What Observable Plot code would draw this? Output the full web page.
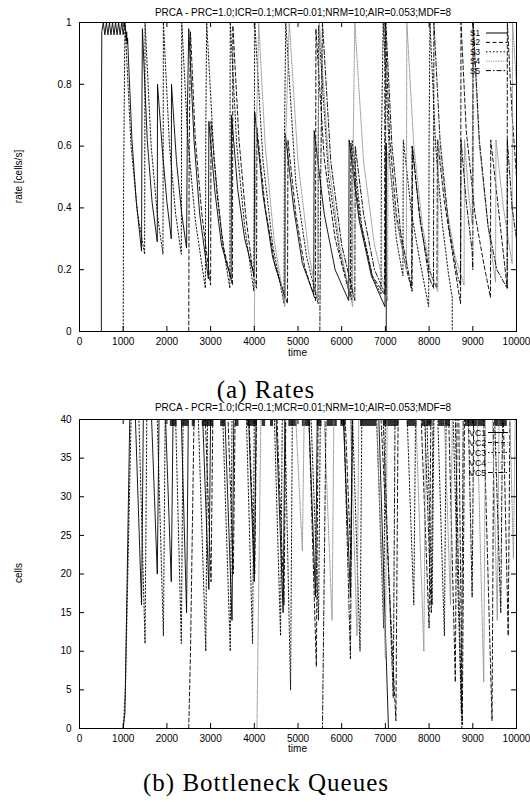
<!DOCTYPE html>
<html><head><meta charset="utf-8">
<script src="https://cdn.jsdelivr.net/npm/d3@7"></script>
<script src="https://cdn.jsdelivr.net/npm/@observablehq/plot@0.6"></script>
<style>
html,body{margin:0;padding:0;background:#fff;}
#wrap{position:relative;width:530px;height:802px;overflow:hidden;background:#fff;}
#top,#bot{position:absolute;left:0;}
#top{top:0;} #bot{top:397px;}
#ov{position:absolute;left:0;top:0;pointer-events:none;}
</style></head>
<body><div id="wrap"><div id="top"></div><div id="bot"></div><svg id="ov" width="530" height="802"></svg></div>
<script>
// ---------- DATA ----------
const xTicks = [0,1000,2000,3000,4000,5000,6000,7000,8000,9000,10000];
const rateTicks = [0,0.2,0.4,0.6,0.8,1];
const queueTicks = [0,5,10,15,20,25,30,35,40];
const rateNames = ["S1","S2","S3","S4","S5"];
const queueNames = ["VC1","VC2","VC3","VC4","VC5"];
const rateTitle = "PRCA - PRC=1.0;ICR=0.1;MCR=0.01;NRM=10;AIR=0.053;MDF=8";
const queueTitle = "PRCA - PCR=1.0;ICR=0.1;MCR=0.01;NRM=10;AIR=0.053;MDF=8";

// [time, rate]
const rateS1 = [[500,0],[500,0.63],[510,0.97],[545,1.0],[580,0.96],[615,1.0],[650,0.96],[685,1.0],[720,0.96],[755,1.0],[790,0.96],[825,1.0],[860,0.96],[895,1.0],[930,0.96],[965,1.0],[1000,0.96],[1035,1.0],[1060,0.97],[1070,0.94],[1080,0.97],[1090,0.93],[1100,0.95],[1200,0.62],[1300,0.42],[1420,0.26],[1430,0.77],[1440,0.98],[1550,0.62],[1660,0.42],[1780,0.29],[1785,0.80],[1900,0.58],[2000,0.42],[2100,0.30],[2105,0.80],[2220,0.55],[2340,0.38],[2450,0.27],[2470,0.72],[2500,0.98],[2620,0.62],[2750,0.38],[2950,0.17],[2960,0.68],[3100,0.45],[3250,0.28],[3470,0.17],[3480,0.70],[3620,0.46],[3780,0.30],[4000,0.18],[4010,0.71],[4200,0.44],[4420,0.24],[4700,0.11],[4710,0.64],[4900,0.40],[5100,0.22],[5360,0.12],[5370,0.65],[5600,0.38],[5850,0.20],[6160,0.10],[6170,0.62],[6400,0.36],[6680,0.18],[6990,0.08],[7020,0.61],[7020,0]];
const rateS2 = [[2500,0],[2510,0.6],[2540,0.97],[2650,0.62],[2800,0.38],[3000,0.15],[3010,0.68],[3150,0.44],[3300,0.27],[3500,0.15],[3510,0.99],[3650,0.62],[3800,0.38],[3960,0.2],[4050,0.14],[4060,0.66],[4250,0.40],[4480,0.21],[4760,0.09],[4770,0.62],[4950,0.38],[5150,0.21],[5400,0.10],[5410,0.98],[5600,0.56],[5850,0.30],[6200,0.11],[6210,0.61],[6420,0.36],[6700,0.18],[6980,0.12],[6990,1.0],[7100,0.62],[7250,0.38],[7450,0.22],[7610,0.13],[7620,0.6],[7800,0.35],[8000,0.2],[8180,0.14],[8190,0.62],[8350,0.42],[8550,0.24],[8720,0.09],[8730,1.0],[8850,0.65],[9050,0.38],[9250,0.22],[9405,0.11],[9410,0.62],[9600,0.38],[9787,0.14],[9790,1.0],[9900,0.7],[10000,0.5]];
const rateS3 = [[1000,0],[1010,0.5],[1040,1.0],[1180,0.6],[1330,0.38],[1490,0.25],[1500,1.0],[1640,0.6],[1780,0.38],[1910,0.25],[1920,1.0],[2060,0.6],[2200,0.38],[2330,0.25],[2340,1.0],[2480,0.62],[2650,0.36],[2880,0.14],[2890,0.64],[2910,1.0],[3080,0.56],[3260,0.3],[3440,0.14],[3450,1.0],[3600,0.6],[3780,0.34],[3990,0.13],[4000,0.62],[4010,1.0],[4200,0.55],[4420,0.28],[4680,0.09],[4690,0.62],[4720,1.0],[4950,0.48],[5200,0.24],[5460,0.09],[5470,0.99],[5700,0.5],[5950,0.26],[6230,0.1],[6240,0.62],[6460,0.34],[6700,0.18],[6900,0.12],[6910,0.62],[6950,1.0],[7100,0.55],[7250,0.3],[7400,0.18],[7410,0.62],[7600,0.38],[7800,0.22],[7990,0.08],[8000,0.62],[8020,1.0],[8150,0.6],[8300,0.35],[8450,0.18],[8530,0.11],[8530,0]];
const rateS4 = [[4000,0],[4030,0.5],[4100,1.0],[4250,0.6],[4450,0.3],[4700,0.08],[4710,0.58],[4800,1.0],[5000,0.55],[5250,0.25],[5450,0.1],[5460,0.6],[5490,1.0],[5700,0.55],[5950,0.28],[6250,0.08],[6260,0.58],[6300,1.0],[6500,0.55],[6750,0.28],[7050,0.10],[7060,0.58],[7250,0.36],[7480,0.20],[7490,1.0],[7650,0.6],[7850,0.34],[8050,0.18],[8200,0.13],[8210,0.62],[8400,0.40],[8600,0.24],[8800,0.15],[8810,0.62],[8900,0.45],[8985,0.35],[9000,1.0],[9150,0.6],[9350,0.34],[9520,0.16],[9530,0.62],[9700,0.4],[9900,0.22],[9910,1.0],[10000,0.8]];
const rateS5 = [[5500,0],[5520,0.5],[5560,1.0],[5750,0.55],[6000,0.28],[6300,0.10],[6310,0.6],[6500,0.38],[6750,0.2],[7000,0.12],[7010,1.0],[7150,0.6],[7350,0.32],[7600,0.14],[7610,0.6],[7780,0.38],[7990,0.18],[8100,0.14],[8110,1.0],[8250,0.62],[8450,0.34],[8650,0.18],[8720,0.15],[8730,0.62],[8850,0.42],[8985,0.26],[9000,0.2],[9010,1.0],[9150,0.62],[9350,0.34],[9550,0.2],[9787,0.14],[9790,0.62],[9900,0.4],[10000,0.3]];

// [time, cells]
const queueVC1 = [[500,0],[1000,0],[1040,2],[1150,40],[1280,40],[1420,16],[1460,40],[1650,40],[1780,20],[1820,40],[1970,40],[2100,19],[2140,40],[2330,40],[2450,15],[2490,40],[2820,40],[2960,18],[3000,40],[3330,40],[3490,14],[3530,40],[3870,40],[4000,19],[4040,40],[4500,40],[4660,15],[4700,40],[5250,40],[5400,17],[5440,40],[6040,40],[6200,17],[6240,40],[6850,40],[7070,0]];
const queueVC2 = [[2500,0],[2540,10],[2620,40],[2880,40],[3010,19],[3050,40],[3400,40],[3520,20],[3560,40],[3880,40],[4010,20],[4050,40],[4520,40],[4680,16],[4720,40],[5250,40],[5420,8],[5460,40],[6080,40],[6210,22],[6250,40],[6900,40],[7240,1],[7290,40],[7820,40],[8000,13],[8040,40],[8450,40],[8600,6],[8640,40],[8680,40],[8760,0.5],[8810,40],[9250,40],[9440,1],[9480,40],[9700,40],[9810,12],[9850,40],[10000,40]];
const queueVC3 = [[1000,0],[1050,5],[1180,40],[1360,40],[1500,11],[1540,40],[1780,40],[1920,12],[1960,40],[2200,40],[2330,11],[2370,40],[2720,40],[2890,10],[2930,40],[3280,40],[3450,10],[3490,40],[3820,40],[3960,11],[4000,40],[4460,40],[4600,12],[4640,40],[4700,40],[4830,5],[4870,40],[5300,40],[5470,14],[5510,40],[6250,40],[6420,10],[6460,40],[6800,40],[6960,13],[7000,40],[7500,40],[7650,16],[7690,40],[7950,40],[8070,16],[8110,40],[8200,40],[8350,12],[8390,40],[8550,40],[8750,0]];
const queueVC4 = [[4000,0],[4060,0],[4150,40],[4950,40],[5100,23],[5140,40],[5600,40],[5780,14],[5820,40],[6200,40],[6350,12],[6390,40],[6800,40],[7000,9],[7040,40],[7700,40],[7880,10],[7920,40],[8350,40],[8490,16],[8530,40],[9100,40],[9250,6],[9290,40],[9450,40],[9560,14],[9600,40],[9850,40],[9930,22],[9970,40]];
const queueVC5 = [[5500,0],[5560,0],[5640,40],[6050,40],[6200,9],[6240,40],[6950,40],[7180,4],[7220,40],[7900,40],[8050,15],[8090,40],[8600,40],[8740,2],[8780,40],[8900,40],[8985,17],[9020,40],[9500,40],[9640,15],[9680,40],[10000,40]];

// time spans where the full queues jitter just below 40 cells
const jitterFrom = [2080,2350,2580,2810,3230,3570,3840,4180,4370,4790,5100,5440,5670,5980,6430,6960,7500,7840,8220,8830,9520];
const jitterTo   = [2235,2500,2650,3075,3340,3650,4070,4260,4440,4980,5290,5550,5900,6090,6810,7310,7730,8070,8490,9290,9790];
const jitterLow = 39.1, jitterHigh = 40;

// ---------- STYLES ----------
const lineStyles = [
  {stroke:"#000", dash:null},
  {stroke:"#000", dash:"4,2.5"},
  {stroke:"#000", dash:"1.5,2"},
  {stroke:"#8c8c8c", dash:"1.2,1.2"},
  {stroke:"#000", dash:"5,2,1.5,2"}
];
const FONT = "'Liberation Sans', Arial, Helvetica, sans-serif";

function chart(seriesData, yDomain, yTicks, extra) {
  const W = 530, H = 360, ml = 79, mr = 14, mt = 22, mb = 29;
  const fw = W - ml - mr, fh = H - mt - mb;
  return Plot.plot({
    width: W, height: H, marginLeft: ml, marginRight: mr, marginTop: mt, marginBottom: mb,
    x: {domain: [0, 10000]},
    y: {domain: yDomain},
    style: {fontFamily: FONT, fontSize: "10px", background: "white", color: "black", overflow: "visible"},
    marks: [
      ...extra,
      ...seriesData.map((data, i) => Plot.line(data, {
        x: d => d[0], y: d => d[1], stroke: lineStyles[i].stroke, strokeWidth: 0.9,
        strokeDasharray: lineStyles[i].dash, clip: true
      })),
      Plot.tickX(xTicks, {x: d => d, insetTop: fh - 5, stroke: "black"}),
      Plot.tickX(xTicks, {x: d => d, insetBottom: fh - 5, stroke: "black"}),
      Plot.tickY(yTicks, {y: d => d, insetRight: fw - 5, stroke: "black"}),
      Plot.tickY(yTicks, {y: d => d, insetLeft: fw - 5, stroke: "black"}),
      Plot.axisX({ticks: xTicks, tickSize: 0, tickPadding: 6, tickFormat: d => String(d), label: null}),
      Plot.axisY({ticks: yTicks, tickSize: 0, tickPadding: 8, tickFormat: d => String(d), label: null}),
      Plot.frame({stroke: "black", strokeWidth: 1})
    ]
  });
}

const jitter = jitterFrom.map((f, i) => ({f, t: jitterTo[i]}));

document.getElementById("top").appendChild(
  chart([rateS1, rateS2, rateS3, rateS4, rateS5], [0, 1], rateTicks, [])
);
document.getElementById("bot").appendChild(
  chart([queueVC1, queueVC2, queueVC3, queueVC4, queueVC5], [0, 40], queueTicks, [
    Plot.rect(jitter, {x1: "f", x2: "t", y1: jitterLow, y2: jitterHigh, fill: "black", fillOpacity: 0.8, clip: true})
  ])
);

// ---------- OVERLAY TEXT / LEGENDS ----------
const ov = d3.select("#ov");
function txt(x, y, s, opt = {}) {
  const t = ov.append("text").attr("x", x).attr("y", y).text(s)
    .attr("font-family", opt.family || FONT).attr("font-size", opt.size || 10)
    .attr("text-anchor", opt.anchor || "middle").attr("fill", "black");
  if (opt.rotate) t.attr("transform", `rotate(-90 ${x} ${y})`);
  if (opt.ls) t.attr("letter-spacing", opt.ls);
  return t;
}
txt(303, 15.5, rateTitle);
txt(303, 411, queueTitle);
txt(297.5, 355.5, "time");
txt(297.5, 751.5, "time");
txt(21.5, 176.5, "rate [cells/s]", {rotate: true});
txt(21.5, 573, "cells", {rotate: true});
const SERIF = "'Liberation Serif', 'Times New Roman', serif";
txt(266, 397.5, "(a) Rates", {family: SERIF, size: 25, ls: 1});
txt(266, 791, "(b) Bottleneck Queues", {family: SERIF, size: 25, ls: 1});

function legend(names, labelX, x1, x2, y0, step, size) {
  names.forEach((n, i) => {
    const y = y0 + i * step;
    txt(labelX, y + size * 0.36, n, {anchor: "end", size});
    const l = ov.append("line").attr("x1", x1).attr("x2", x2).attr("y1", y).attr("y2", y)
      .attr("stroke", lineStyles[i].stroke).attr("stroke-width", 1);
    if (lineStyles[i].dash) l.attr("stroke-dasharray", lineStyles[i].dash);
  });
}
legend(rateNames, 480, 486, 507, 33, 9.4, 8.2);
legend(queueNames, 486, 488, 508, 432.5, 10, 8.7);
</script></body></html>
